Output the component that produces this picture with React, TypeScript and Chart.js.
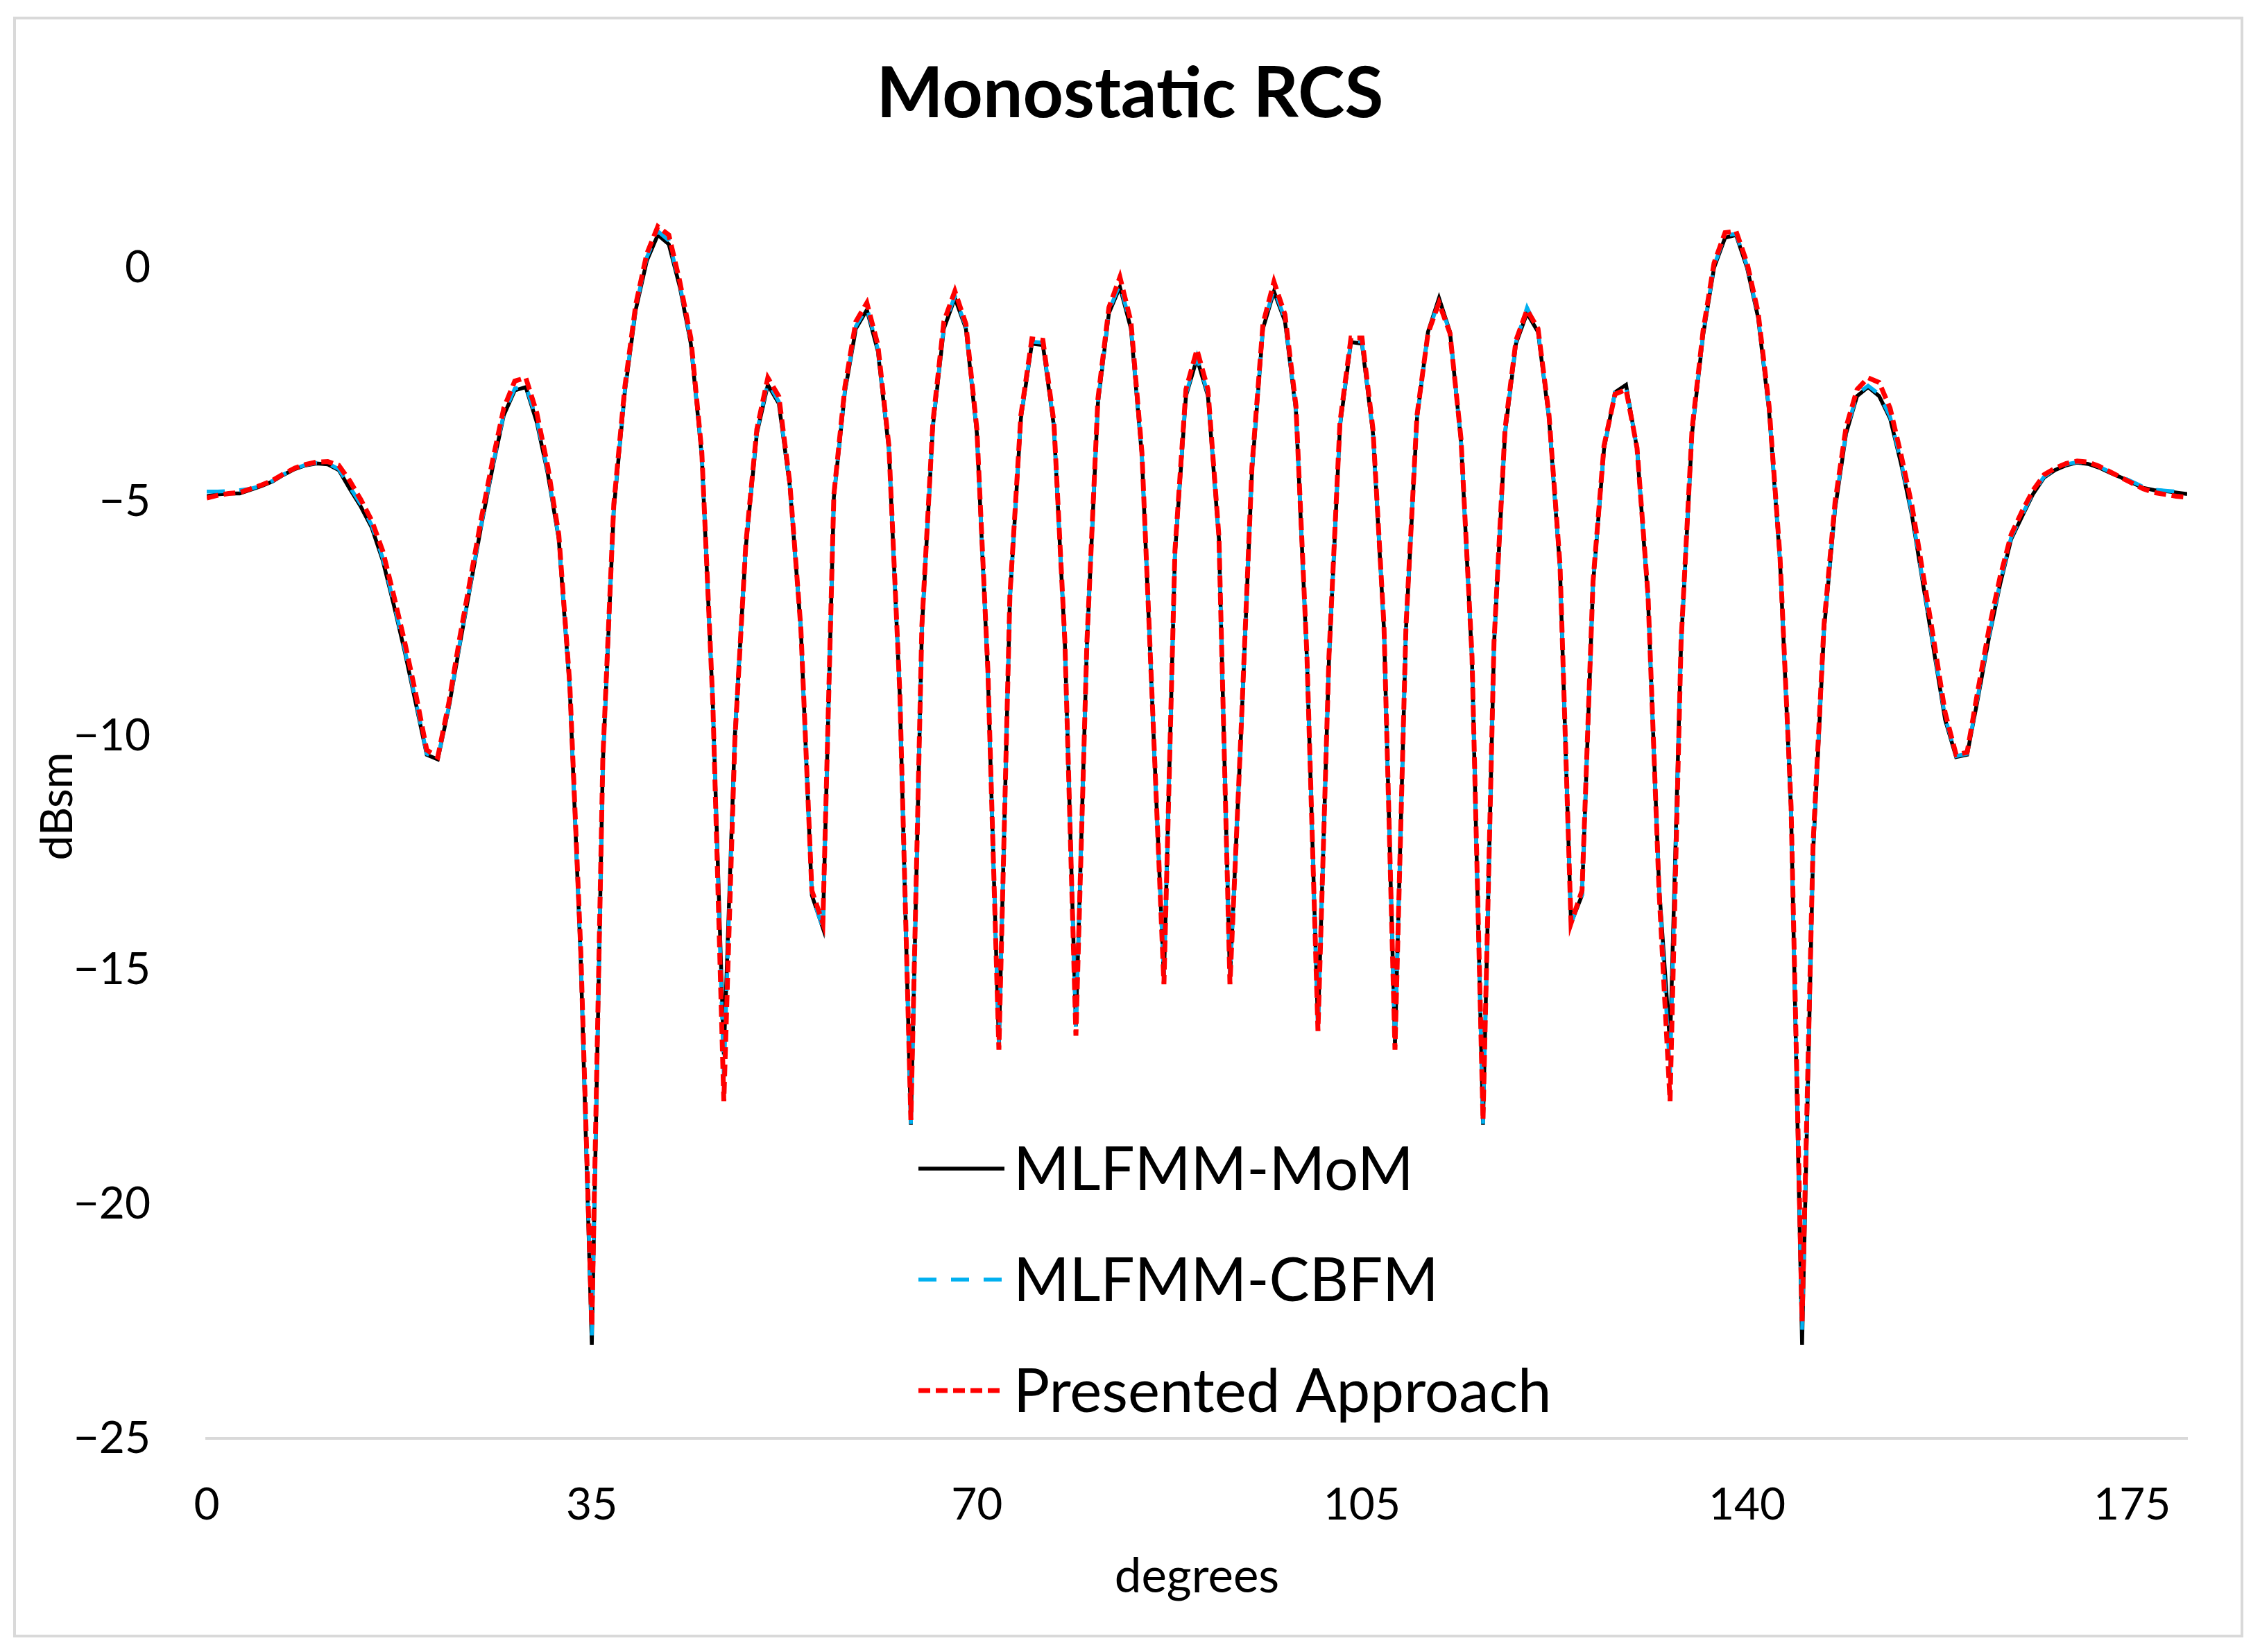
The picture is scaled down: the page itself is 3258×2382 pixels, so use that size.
import { useEffect, useRef } from "react";
import { Chart, registerables } from "chart.js";

Chart.register(...registerables);

const FONT = "Lato, 'Open Sans', sans-serif";

// Observation angles (degrees)
const degrees = [
  0, 1, 2, 3, 4, 5, 6, 7, 8, 9,
  10, 11, 12, 13, 14, 15, 16, 17, 18, 19,
  20, 21, 22, 23, 24, 25, 26, 27, 28, 29,
  30, 31, 32, 33, 34, 35, 36, 37, 38, 39,
  40, 41, 42, 43, 44, 45, 46, 47, 48, 49,
  50, 51, 52, 53, 54, 55, 56, 57, 58, 59,
  60, 61, 62, 63, 64, 65, 66, 67, 68, 69,
  70, 71, 72, 73, 74, 75, 76, 77, 78, 79,
  80, 81, 82, 83, 84, 85, 86, 87, 88, 89,
  90, 91, 92, 93, 94, 95, 96, 97, 98, 99,
  100, 101, 102, 103, 104, 105, 106, 107, 108, 109,
  110, 111, 112, 113, 114, 115, 116, 117, 118, 119,
  120, 121, 122, 123, 124, 125, 126, 127, 128, 129,
  130, 131, 132, 133, 134, 135, 136, 137, 138, 139,
  140, 141, 142, 143, 144, 145, 146, 147, 148, 149,
  150, 151, 152, 153, 154, 155, 156, 157, 158, 159,
  160, 161, 162, 163, 164, 165, 166, 167, 168, 169,
  170, 171, 172, 173, 174, 175, 176, 177, 178, 179,
  180,
];

// MLFMM-MoM (dBsm)
const momDb = [
  -4.88, -4.84, -4.82, -4.82, -4.74, -4.66, -4.56, -4.42, -4.30, -4.22,
  -4.18, -4.20, -4.32, -4.72, -5.10, -5.55, -6.25, -7.20, -8.20, -9.30,
  -10.40, -10.50, -9.40, -8.05, -6.75, -5.45, -4.25, -3.15, -2.62, -2.55,
  -3.30, -4.40, -5.80, -9.00, -14.8, -23.0, -10.6, -5.15, -2.66, -0.89,
  0.15, 0.70, 0.50, -0.41, -1.62, -4.03, -9.33, -16.8, -10.0, -5.96,
  -3.54, -2.50, -2.90, -4.67, -7.72, -13.4, -14.1, -4.90, -2.66, -1.30,
  -0.90, -1.78, -3.87, -9.17, -18.3, -7.72, -3.39, -1.30, -0.65, -1.30,
  -3.54, -8.69, -16.6, -7.08, -3.22, -1.62, -1.65, -3.39, -8.05, -16.2,
  -8.05, -2.90, -0.97, -0.41, -1.30, -4.03, -9.65, -15.2, -6.12, -2.74,
  -1.94, -2.74, -5.80, -15.2, -10.0, -4.35, -1.30, -0.51, -1.14, -3.06,
  -8.37, -16.2, -8.37, -3.39, -1.59, -1.62, -3.54, -7.72, -16.6, -7.72,
  -3.22, -1.37, -0.65, -1.37, -3.70, -8.37, -18.3, -8.05, -3.54, -1.62,
  -0.97, -1.37, -3.22, -6.44, -14.0, -13.4, -6.76, -3.87, -2.66, -2.50,
  -3.87, -7.08, -13.2, -16.6, -8.05, -3.54, -1.45, 0.00, 0.64, 0.70,
  0.00, -1.06, -3.06, -6.28, -11.6, -23.0, -12.5, -7.72, -5.15, -3.54,
  -2.74, -2.55, -2.74, -3.22, -4.19, -5.31, -6.76, -8.21, -9.65, -10.45,
  -10.40, -9.17, -7.88, -6.76, -5.80, -5.31, -4.83, -4.48, -4.32, -4.22,
  -4.16, -4.19, -4.27, -4.38, -4.48, -4.59, -4.70, -4.75, -4.77, -4.80,
  -4.83,
];

// MLFMM-CBFM (dBsm)
const cbfmDb = [
  -4.78, -4.78, -4.77, -4.75, -4.72, -4.65, -4.55, -4.41, -4.29, -4.21,
  -4.17, -4.18, -4.30, -4.68, -5.05, -5.50, -6.20, -7.15, -8.15, -9.25,
  -10.38, -10.48, -9.38, -8.02, -6.72, -5.42, -4.22, -3.12, -2.58, -2.52,
  -3.25, -4.36, -5.78, -8.98, -14.7, -22.8, -10.6, -5.12, -2.62, -0.84,
  0.22, 0.78, 0.58, -0.36, -1.58, -4.00, -9.32, -17.3, -10.0, -5.94,
  -3.50, -2.45, -2.86, -4.65, -7.72, -13.4, -14.1, -4.88, -2.62, -1.25,
  -0.85, -1.74, -3.85, -9.15, -18.3, -7.70, -3.36, -1.25, -0.60, -1.26,
  -3.52, -8.66, -16.6, -7.06, -3.20, -1.58, -1.60, -3.36, -8.04, -16.3,
  -8.04, -2.86, -0.92, -0.35, -1.24, -4.00, -9.64, -15.2, -6.10, -2.70,
  -1.90, -2.70, -5.78, -15.2, -9.98, -4.32, -1.26, -0.45, -1.10, -3.02,
  -8.35, -16.3, -8.35, -3.36, -1.56, -1.58, -3.52, -7.70, -16.6, -7.70,
  -3.20, -1.38, -0.72, -1.38, -3.68, -8.35, -18.3, -8.04, -3.52, -1.58,
  -0.85, -1.34, -3.20, -6.42, -14.0, -13.4, -6.74, -3.85, -2.66, -2.55,
  -3.86, -7.05, -13.2, -17.2, -8.04, -3.52, -1.42, 0.04, 0.70, 0.72,
  0.04, -1.02, -3.02, -6.25, -11.6, -22.7, -12.4, -7.68, -5.10, -3.50,
  -2.70, -2.52, -2.70, -3.18, -4.14, -5.26, -6.72, -8.16, -9.60, -10.43,
  -10.38, -9.12, -7.84, -6.72, -5.76, -5.28, -4.80, -4.46, -4.30, -4.20,
  -4.15, -4.17, -4.25, -4.36, -4.46, -4.57, -4.68, -4.74, -4.76, -4.78,
  -4.80,
];

// Presented Approach (dBsm)
const presentedDb = [
  -4.92, -4.86, -4.82, -4.80, -4.72, -4.64, -4.54, -4.40, -4.28, -4.20,
  -4.15, -4.14, -4.22, -4.55, -4.95, -5.40, -6.05, -7.00, -8.00, -9.10,
  -10.30, -10.45, -9.30, -7.90, -6.60, -5.30, -4.10, -3.00, -2.42, -2.35,
  -3.10, -4.25, -5.70, -8.90, -14.6, -22.6, -10.5, -5.05, -2.55, -0.78,
  0.30, 0.88, 0.70, -0.30, -1.50, -3.95, -9.30, -17.8, -10.1, -5.90,
  -3.45, -2.35, -2.75, -4.60, -7.70, -13.3, -14.0, -4.85, -2.55, -1.15,
  -0.75, -1.65, -3.80, -9.10, -18.2, -7.65, -3.30, -1.15, -0.50, -1.20,
  -3.45, -8.60, -16.7, -7.00, -3.15, -1.52, -1.55, -3.30, -8.00, -16.4,
  -8.00, -2.80, -0.85, -0.20, -1.15, -3.95, -9.60, -15.3, -6.05, -2.60,
  -1.75, -2.60, -5.75, -15.3, -9.95, -4.25, -1.20, -0.30, -1.00, -2.95,
  -8.30, -16.3, -8.30, -3.30, -1.50, -1.50, -3.45, -7.65, -16.7, -7.65,
  -3.15, -1.40, -0.75, -1.40, -3.65, -8.30, -18.2, -8.00, -3.45, -1.55,
  -0.90, -1.30, -3.15, -6.35, -14.0, -13.3, -6.70, -3.80, -2.70, -2.60,
  -3.85, -7.00, -13.3, -17.8, -8.00, -3.45, -1.35, 0.10, 0.75, 0.78,
  0.10, -0.95, -2.95, -6.20, -11.5, -22.5, -12.3, -7.60, -5.00, -3.40,
  -2.60, -2.35, -2.45, -3.00, -4.00, -5.10, -6.55, -8.00, -9.50, -10.40,
  -10.35, -9.00, -7.70, -6.60, -5.70, -5.20, -4.75, -4.42, -4.28, -4.18,
  -4.13, -4.15, -4.24, -4.36, -4.48, -4.60, -4.72, -4.80, -4.84, -4.88,
  -4.90,
];

const xTicks = [0, 35, 70, 105, 140, 175];
const yTicks = [-25, -20, -15, -10, -5, 0];
const titleText = "Monostatic RCS";
const seriesNames = ["MLFMM-MoM", "MLFMM-CBFM", "Presented Approach"];
const seriesColors = ["#000000", "#00B0F0", "#FF0000"];
const seriesDash: number[][] = [[], [26, 21], [17, 8]];
const seriesWidth = [5.5, 5.5, 7];

const toPoints = (vals: number[]) => degrees.map((d, i) => ({ x: d, y: vals[i] }));

const frameTitleLegend = {
  id: "frameTitleLegend",
  afterDraw(chart: any) {
    const { ctx, chartArea, width } = chart;
    ctx.save();
    // outer frame
    ctx.strokeStyle = "#D9D9D9";
    ctx.lineWidth = 4;
    ctx.strokeRect(21, 26, 3211, 2333);
    // title centred on the figure
    ctx.fillStyle = "#000";
    ctx.font = `bold 102px ${FONT}`;
    ctx.textAlign = "center";
    ctx.textBaseline = "alphabetic";
    ctx.fillText(titleText, width / 2, 169);
    // legend inside plot area
    const x1 = chartArea.left + 1026;
    const x2 = x1 + 124;
    const tx = x1 + 137;
    const rows = [1434, 1594, 1754];
    ctx.font = `87px ${FONT}`;
    ctx.textAlign = "left";
    seriesNames.forEach((name, i) => {
      const y = chartArea.top + rows[i];
      ctx.beginPath();
      ctx.setLineDash(seriesDash[i]);
      ctx.strokeStyle = seriesColors[i];
      ctx.lineWidth = seriesWidth[i];
      ctx.moveTo(x1, y);
      ctx.lineTo(x2, y);
      ctx.stroke();
      ctx.setLineDash([]);
      ctx.fillStyle = "#000";
      ctx.fillText(name, tx, y + 31);
    });
    ctx.restore();
  },
};

export default function App() {
  const ref = useRef<HTMLCanvasElement | null>(null);

  useEffect(() => {
    document.body.style.margin = "0";
    const canvas = ref.current;
    if (!canvas) return;
    const seriesData = [momDb, cbfmDb, presentedDb];
    const chart = new Chart(canvas, {
      type: "line",
      data: {
        datasets: seriesNames.map((name, i) => ({
          label: name,
          data: toPoints(seriesData[i]),
          borderColor: seriesColors[i],
          backgroundColor: seriesColors[i],
          borderWidth: seriesWidth[i],
          borderDash: seriesDash[i],
          pointRadius: 0,
          tension: 0,
          fill: false,
          order: 3 - i,
        })),
      },
      options: {
        animation: false,
        responsive: false,
        devicePixelRatio: 1,
        layout: { padding: { left: 0, right: 105, top: 251, bottom: 58 } },
        plugins: {
          legend: { display: false },
          tooltip: { enabled: false },
          title: { display: false },
        },
        scales: {
          x: {
            type: "linear",
            min: 0,
            max: 180,
            afterBuildTicks: (s: any) => {
              s.ticks = xTicks.map((v) => ({ value: v }));
            },
            afterFit: (s: any) => {
              s.height = 250;
            },
            ticks: {
              color: "#000",
              font: { family: FONT, size: 64 },
              padding: 58,
              maxRotation: 0,
              autoSkip: false,
              callback: (v: any) => String(v),
            },
            grid: { display: false, drawTicks: false },
            border: { display: true, color: "#D9D9D9", width: 4 },
            title: {
              display: true,
              text: "degrees",
              color: "#000",
              font: { family: FONT, size: 69 },
              padding: { top: 0, bottom: 9 },
            },
          },
          y: {
            type: "linear",
            min: -25,
            max: 2,
            afterBuildTicks: (s: any) => {
              s.ticks = yTicks.map((v) => ({ value: v }));
            },
            afterFit: (s: any) => {
              s.width = 298;
            },
            ticks: {
              color: "#000",
              font: { family: FONT, size: 64 },
              padding: 81,
              callback: (v: any) => (v < 0 ? "\u2212" + Math.abs(v) : String(v)),
            },
            grid: { display: false, drawTicks: false },
            border: { display: false },
            title: {
              display: true,
              text: "dBsm",
              color: "#000",
              font: { family: FONT, size: 64 },
              padding: { top: 45, bottom: 0 },
            },
          },
        },
      },
      plugins: [frameTitleLegend],
    } as any);
    return () => chart.destroy();
  }, []);

  return (
    <canvas
      ref={ref}
      width={3258}
      height={2382}
      style={{ display: "block", width: "3258px", height: "2382px" }}
    />
  );
}
